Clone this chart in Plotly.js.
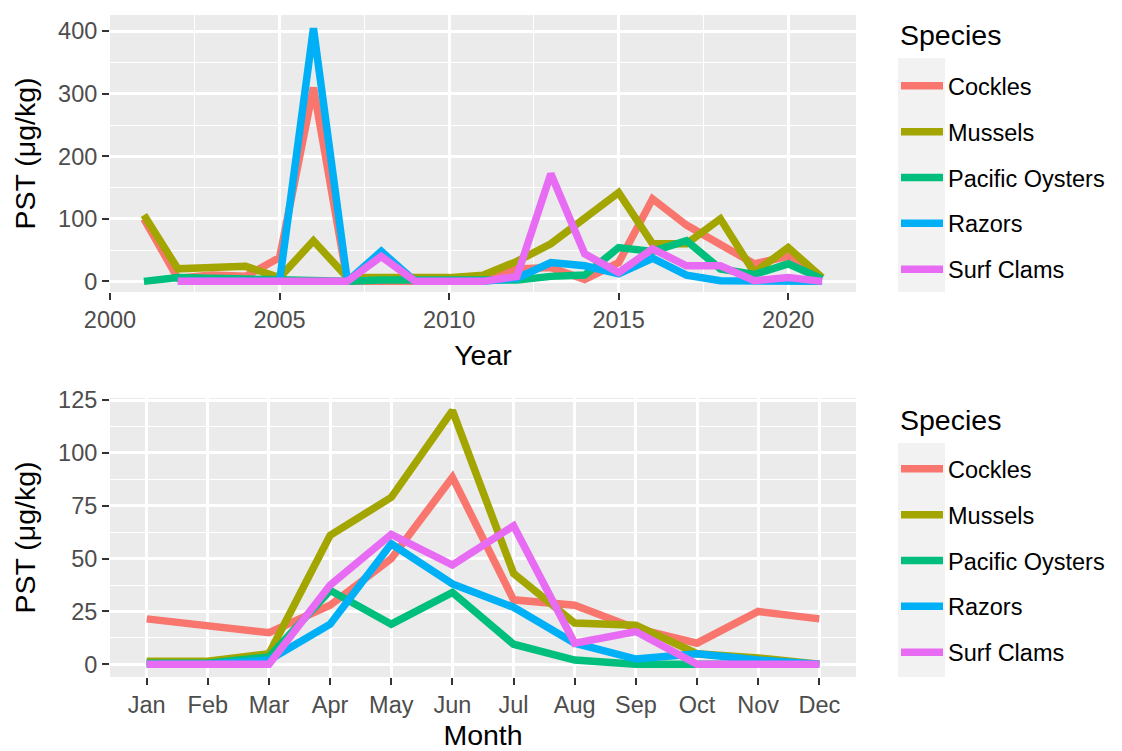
<!DOCTYPE html>
<html>
<head>
<meta charset="utf-8">
<script src="https://cdn.plot.ly/plotly-3.0.1.min.js"></script>
<style>
  html, body { margin: 0; padding: 0; background: #ffffff; }
  #chart { width: 1122px; height: 751px; }
</style>
</head>
<body>
<div id="chart"></div>
<script>
// ---------- data ----------
const species = ["Cockles", "Mussels", "Pacific Oysters", "Razors", "Surf Clams"];
const speciesColors = ["#F8766D", "#A3A500", "#00BF7D", "#00B0F6", "#E76BF3"];
const legendTitle = "Species";

const yearsFull = [2001, 2002, 2003, 2004, 2005, 2006, 2007, 2008, 2009, 2010, 2011,
                   2012, 2013, 2014, 2015, 2016, 2017, 2018, 2019, 2020, 2021];
const yearsLate = [2002, 2003, 2004, 2005, 2006, 2007, 2008, 2009, 2010, 2011,
                   2012, 2013, 2014, 2015, 2016, 2017, 2018, 2019, 2020, 2021];

const cocklesYear   = [100, 5, 10, 8, 38, 310, 0, 0, 0, 0, 3, 20, 22, 3, 30, 132, 90, 58, 28, 40, 5];
const musselsYear   = [106, 20, 22, 24, 6, 65, 6, 6, 5, 6, 10, 32, 60, 100, 142, 60, 60, 100, 14, 54, 6];
const oystersYear   = [0, 6, 5, 3, 3, 0, 0, 2, 2, 2, 0, 2, 8, 10, 54, 48, 65, 20, 11, 28, 4];
const razorsYear    = [0, 0, 0, 0, 405, 0, 48, 0, 0, 0, 5, 30, 25, 12, 37, 10, 1, 0, 0, 0];
const surfClamsYear = [0, 0, 0, 0, 0, 0, 40, 0, 0, 0, 8, 172, 44, 14, 52, 25, 25, 1, 6, 0];

const months = ["Jan", "Feb", "Mar", "Apr", "May", "Jun", "Jul", "Aug", "Sep", "Oct", "Nov", "Dec"];
const cocklesMonth   = [21.5, 18.5, 15, 28, 50, 88.5, 30.5, 28, 17, 10, 25, 21.5];
const musselsMonth   = [1.5, 1.5, 5, 61, 79, 120, 43, 19.5, 18.5, 5, 3, 0];
const oystersMonth   = [0.5, 0.5, 3.5, 35, 19, 34, 9.5, 2, 0, 0, 0, 0];
const razorsMonth    = [0, 0, 2, 19, 57, 38, 27, 10, 2.5, 5, 2, 0];
const surfClamsMonth = [0, 0, 0, 37.5, 61.5, 47, 65.5, 10, 15.5, 0, 0, 0];

const yearX = [yearsFull, yearsFull, yearsFull, yearsLate, yearsLate];
const yearY = [cocklesYear, musselsYear, oystersYear, razorsYear, surfClamsYear];
const monthY = [cocklesMonth, musselsMonth, oystersMonth, razorsMonth, surfClamsMonth];

const yearTicks = [2000, 2005, 2010, 2015, 2020];
const yearTicks2 = [0, 100, 200, 300, 400];
const monthTicks2 = [0, 25, 50, 75, 100, 125];

// ---------- style ----------
const W = 1122, H = 751;
const FONT = "Liberation Sans, Arial, sans-serif";
const TICK_SIZE = 23.5, TITLE_SIZE = 28.5;
const LW = 7.5;
const px = v => v / W;
const py = v => 1 - v / H;

const traces = [];
species.forEach((s, i) => {
  traces.push({
    type: "scatter", mode: "lines", name: s,
    x: yearX[i], y: yearY[i], xaxis: "x", yaxis: "y",
    line: { color: speciesColors[i], width: LW },
    legend: "legend", legendgroup: "top" + i, hoverinfo: "x+y+name"
  });
});
species.forEach((s, i) => {
  traces.push({
    type: "scatter", mode: "lines", name: s,
    x: months, y: monthY[i], xaxis: "x2", yaxis: "y2",
    line: { color: speciesColors[i], width: LW },
    legend: "legend2", legendgroup: "bot" + i, hoverinfo: "x+y+name"
  });
});

const tickFont = { family: FONT, size: TICK_SIZE, color: "#4d4d4d" };
const titleFont = { family: FONT, size: TITLE_SIZE, color: "#000000" };
const common = {
  showgrid: true, gridcolor: "#ffffff", gridwidth: 2.6,
  zeroline: false, showline: false,
  ticks: "outside", ticklen: 7, tickwidth: 2, tickcolor: "#333333",
  tickfont: tickFont, automargin: false, fixedrange: true
};

const legendCommon = {
  font: { family: FONT, size: TICK_SIZE, color: "#000000" },
  bgcolor: "rgba(0,0,0,0)", borderwidth: 0,
  itemwidth: 42, tracegroupgap: 12.3,
  xanchor: "left", yanchor: "top", x: px(896),
  itemclick: false, itemdoubleclick: false
};

const layout = {
  width: W, height: H,
  margin: { l: 0, r: 0, t: 0, b: 0 },
  paper_bgcolor: "#ffffff", plot_bgcolor: "#ebebeb",
  font: { family: FONT },
  showlegend: true,
  xaxis: Object.assign({}, common, {
    domain: [px(110), px(856)], anchor: "y",
    range: [2000, 2022], tickmode: "array", tickvals: yearTicks,
    minor: { dtick: 2.5, tick0: 2002.5, showgrid: true, gridcolor: "#ffffff", gridwidth: 1.4 },
    title: { text: "Year", font: titleFont, standoff: 12 }
  }),
  yaxis: Object.assign({}, common, {
    domain: [py(292), py(15)], anchor: "x",
    range: [-17, 426], tickmode: "array", tickvals: yearTicks2,
    minor: { dtick: 50, tick0: 50, showgrid: true, gridcolor: "#ffffff", gridwidth: 1.4 },
    title: { text: "PST (μg/kg)", font: titleFont, standoff: 14 }
  }),
  xaxis2: Object.assign({}, common, {
    domain: [px(110), px(856)], anchor: "y2",
    type: "category", categoryorder: "array", categoryarray: months,
    range: [-0.6, 11.6],
    title: { text: "Month", font: titleFont, standoff: 15 }
  }),
  yaxis2: Object.assign({}, common, {
    domain: [py(677), py(398)], anchor: "x2",
    range: [-6, 126], tickmode: "array", tickvals: monthTicks2,
    minor: { dtick: 12.5, tick0: 12.5, showgrid: true, gridcolor: "#ffffff", gridwidth: 1.4 },
    title: { text: "PST (μg/kg)", font: titleFont, standoff: 14 }
  }),
  legend: Object.assign({}, legendCommon, { y: py(64) }),
  legend2: Object.assign({}, legendCommon, { y: py(447) }),
  annotations: [
    { xref: "paper", yref: "paper", x: px(898), y: py(35), xanchor: "left", yanchor: "middle",
      text: legendTitle, showarrow: false, font: titleFont },
    { xref: "paper", yref: "paper", x: px(898), y: py(420), xanchor: "left", yanchor: "middle",
      text: legendTitle, showarrow: false, font: titleFont }
  ],
  shapes: [
    { type: "rect", xref: "paper", yref: "paper", layer: "below",
      x0: px(898), x1: px(945), y0: py(292), y1: py(58),
      fillcolor: "#f2f2f2", line: { width: 0 } },
    { type: "rect", xref: "paper", yref: "paper", layer: "below",
      x0: px(898), x1: px(945), y0: py(677), y1: py(443),
      fillcolor: "#f2f2f2", line: { width: 0 } }
  ]
};

Plotly.newPlot("chart", traces, layout, { displayModeBar: false, staticPlot: false, responsive: false });
</script>
</body>
</html>
